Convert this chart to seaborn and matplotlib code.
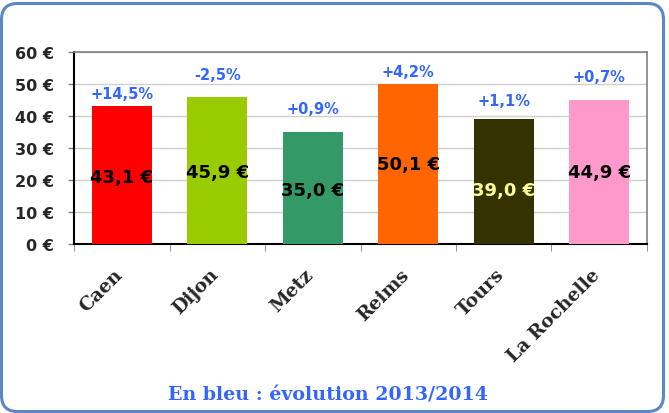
import numpy as np
import pandas as pd
import seaborn as sns
import matplotlib.pyplot as plt
from matplotlib.patches import FancyBboxPatch
from matplotlib.transforms import ScaledTranslation

# data
villes = ["Caen", "Dijon", "Metz", "Reims", "Tours", "La Rochelle"]
prix = [43.1, 45.9, 35.0, 50.1, 39.0, 44.9]
evolution = ["+14,5%", "-2,5%", "+0,9%", "+4,2%", "+1,1%", "+0,7%"]

# style
couleurs = ["#FF0000", "#99CC00", "#339966", "#FF6600", "#333300", "#FF99CC"]
couleurs_txt = ["black", "black", "black", "black", "#FFFF99", "black"]
decal_pct = [3.8, 7.2, 7.2, 3.9, 6.0, 7.6]     # label position above bars
decal_val = [-0.5, -0.4, -0.6, 0.0, -2.6, 0.0]  # label position inside bars
BLEU = "#3366FF"

df = pd.DataFrame({"ville": villes, "prix": prix})

sns.set_style("white")
plt.rcParams["font.family"] = ["DejaVu Sans"]

fig = plt.figure(figsize=(6.69, 4.14), dpi=100)
ax = fig.add_axes([0.111, 0.408, 0.856, 0.464])

# rounded frame (inches)
cadre = FancyBboxPatch((0.015, 0.015), 6.62, 4.08,
                       boxstyle="round,pad=0,rounding_size=0.16",
                       transform=fig.dpi_scale_trans, fill=False,
                       edgecolor="#5B87C5", linewidth=2.2, zorder=0)
fig.patches.append(cadre)

sns.barplot(data=df, x="ville", y="prix", hue="ville", palette=couleurs,
            legend=False, width=0.63, saturation=1, linewidth=0,
            ax=ax, zorder=3)

ax.set_ylim(0, 60)
ax.set_xlim(-0.5, len(villes) - 0.5)
ax.set_yticks(np.arange(0, 61, 10))
ax.set_yticklabels([f"{v} €" for v in range(0, 61, 10)],
                   fontsize=11.5, fontweight="bold")
ax.yaxis.grid(True, color="#D0D0D0", linewidth=1, zorder=0)
ax.set_axisbelow(True)
ax.tick_params(axis="y", length=4.5, width=1, color="#808080", pad=10, left=True)

ax.set_xticks(np.arange(len(villes)))
ax.set_xticklabels(villes, rotation=45, ha="right", fontsize=13.5,
                   fontweight="bold", family="DejaVu Serif")
ax.set_xticks(np.arange(len(villes) + 1) - 0.5, minor=True)
ax.tick_params(axis="x", which="major", length=0, pad=15)
ax.tick_params(axis="x", which="minor", length=5, color="#808080",
               bottom=True)
for lbl in ax.get_xticklabels():
    lbl.set_transform(lbl.get_transform() +
                      ScaledTranslation(0.04, 0, fig.dpi_scale_trans))

ax.set_xlabel("")
ax.set_ylabel("")

for side in ["top", "right"]:
    ax.spines[side].set_color("#808080")
    ax.spines[side].set_linewidth(1.2)
for side in ["left", "bottom"]:
    ax.spines[side].set_color("black")
    ax.spines[side].set_linewidth(1.5)

for i, (v, e) in enumerate(zip(prix, evolution)):
    ax.text(i, v + decal_pct[i], e, ha="center", va="center",
            color=BLEU, fontsize=10.5, fontweight="bold")
    ax.text(i, v / 2 + decal_val[i], f"{v:.1f} €".replace(".", ","),
            ha="center", va="center", color=couleurs_txt[i],
            fontsize=13, fontweight="bold", zorder=5)

fig.text(0.49, 0.044, "En bleu : évolution 2013/2014", ha="center",
         va="center", color=BLEU, fontsize=13.7, fontweight="bold",
         family="DejaVu Serif")

fig.savefig("out.png", dpi=100)
